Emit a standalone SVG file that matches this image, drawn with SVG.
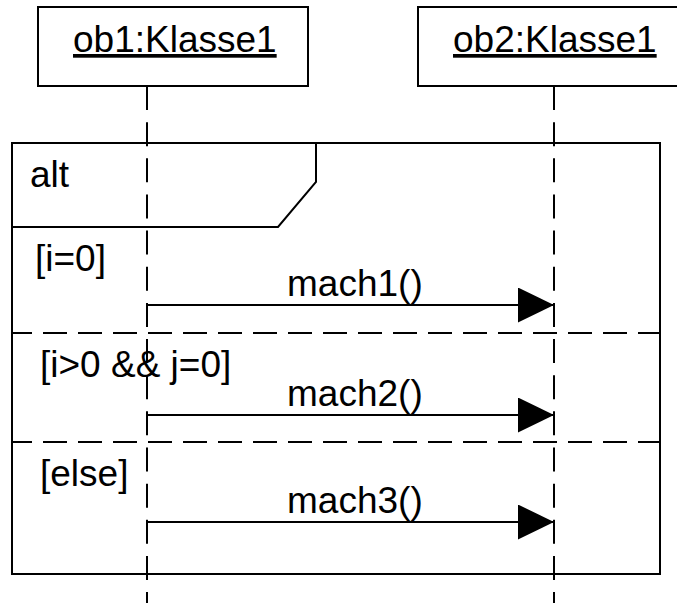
<svg xmlns="http://www.w3.org/2000/svg" width="677" height="603" viewBox="0 0 677 603">
<style>
text{font-family:"Liberation Sans",Arial,sans-serif;font-size:37px;fill:#000}
.box{fill:#fff;stroke:#000;stroke-width:2}
.life{stroke:#000;stroke-width:2;stroke-dasharray:24 12.15;fill:none}
.sep{stroke:#000;stroke-width:2;stroke-dasharray:24 11;stroke-dashoffset:4;fill:none}
.msg{stroke:#000;stroke-width:2;fill:none}
.frame{fill:none;stroke:#000;stroke-width:2}
</style>
<defs>
<marker id="ah" markerUnits="userSpaceOnUse" markerWidth="38" markerHeight="36" refX="36" refY="17.5" orient="auto">
<path d="M0 0 L36 17.5 L0 35 Z" fill="#000"/>
</marker>
</defs>
<rect width="677" height="603" fill="#fff"/>
<g id="lifelines">
<line class="life" x1="147" y1="86" x2="147" y2="603"/>
<line class="life" x1="554" y1="86" x2="554" y2="603"/>
</g>
<g id="ob1">
<rect class="box" x="38" y="7" width="270" height="79"/>
<text x="73" y="52" text-decoration="underline">ob1:Klasse1</text>
</g>
<g id="ob2">
<rect class="box" x="418" y="7" width="270" height="79"/>
<text x="453" y="52" text-decoration="underline">ob2:Klasse1</text>
</g>
<g id="alt">
<rect class="frame" x="12" y="143" width="648" height="431"/>
<path class="frame" d="M12 227 H278 L316 182 V143"/>
<text x="30" y="187">alt</text>
<line class="sep" x1="12" y1="333" x2="660" y2="333"/>
<line class="sep" x1="12" y1="442" x2="660" y2="442"/>
<text x="35" y="271">[i=0]</text>
<text x="40" y="377">[i&gt;0 &amp;&amp; j=0]</text>
<text x="40" y="486">[else]</text>
</g>
<g id="connectors">
<line class="msg" x1="147" y1="305" x2="554" y2="305" marker-end="url(#ah)"/>
<text x="287" y="296">mach1()</text>
<line class="msg" x1="147" y1="415" x2="554" y2="415" marker-end="url(#ah)"/>
<text x="287" y="406">mach2()</text>
<line class="msg" x1="147" y1="522" x2="554" y2="522" marker-end="url(#ah)"/>
<text x="287" y="513">mach3()</text>
</g>
</svg>
